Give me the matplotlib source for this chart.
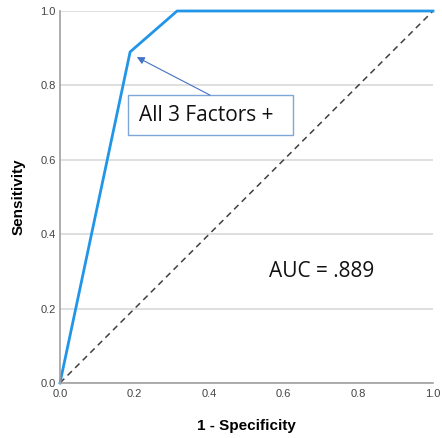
import matplotlib.pyplot as plt
from matplotlib.patches import Rectangle

# ROC curve points
fpr = [0.0, 0.188, 0.314, 1.0]
tpr = [0.0, 0.89, 1.0, 1.0]
ref_line = [0.0, 1.0]
ticks = [0.0, 0.2, 0.4, 0.6, 0.8, 1.0]
tick_labels = ["0.0", "0.2", "0.4", "0.6", "0.8", "1.0"]

plt.rcParams['font.family'] = ['Liberation Sans', 'DejaVu Sans']

fig = plt.figure(figsize=(4.42, 4.38), dpi=100)
ax = fig.add_axes([0.1357, 0.1256, 0.8439, 0.8493])

ax.set_xlim(0, 1)
ax.set_ylim(0, 1)
ax.set_yticks(ticks)
ax.set_yticklabels(tick_labels)
ax.set_xticks(ticks)
ax.set_xticklabels(tick_labels)
ax.grid(axis='y', color='#d9d9d9', linewidth=1.2)
ax.set_axisbelow(True)
for s in ['top', 'right']:
    ax.spines[s].set_visible(False)
for s in ['left', 'bottom']:
    ax.spines[s].set_color('#a0a0a0')
    ax.spines[s].set_linewidth(1.2)
ax.tick_params(length=0, labelsize=8, colors='#444444')
ax.tick_params(axis='x', pad=4)
ax.tick_params(axis='y', pad=3)

ax.plot(ref_line, ref_line, color='#404040', linestyle=(0, (4, 3)), linewidth=1.1)
ax.plot(fpr, tpr, color='#2196e8', linewidth=2, clip_on=False)

ax.set_xlabel("1 - Specificity", fontsize=11, fontweight='bold', labelpad=15)
ax.set_ylabel("Sensitivity", fontsize=11, fontweight='bold', labelpad=11)

# annotation box + arrow
ax.add_patch(Rectangle((0.182, 0.667), 0.443, 0.107, fc='white', ec='#7ea6d8',
                       lw=1, zorder=3))
ax.text(0.212, 0.72, "All 3 Factors +", fontsize=15, family='Open Sans',
        color='#111111', va='center', ha='left', zorder=4)
ax.annotate("", xy=(0.206, 0.876), xytext=(0.402, 0.774),
            arrowprops=dict(arrowstyle='-|>', color='#4472c4', lw=0.8,
                            mutation_scale=11, shrinkA=0, shrinkB=0), zorder=4)

ax.text(0.56, 0.3, "AUC = .889", fontsize=15, family='Open Sans', color='#111111',
        va='center', ha='left')

fig.savefig("out.png", dpi=100)
